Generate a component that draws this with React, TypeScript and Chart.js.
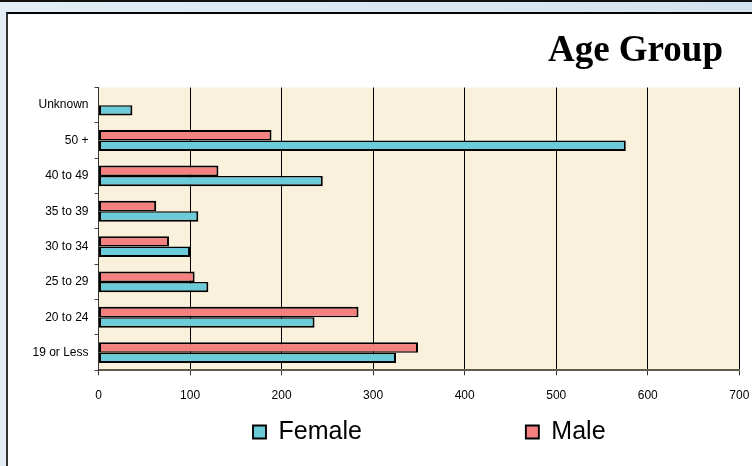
import React, { useEffect, useRef } from "react";
import { Chart, registerables } from "chart.js";

Chart.register(...registerables);

const categories = ["19 or Less", "20 to 24", "25 to 29", "30 to 34", "35 to 39", "40 to 49", "50 +", "Unknown"];
const femaleValues = [325, 236, 120, 100, 109, 245, 576, 37];
const maleValues: (number | null)[] = [349, 284, 105, 77, 63, 131, 189, null];
const xMin = 0;
const xMax = 700;
const xStep = 100;
const titleText = "Age Group";

const SANS = "'Liberation Sans', Arial, sans-serif";
const SERIF = "'Liberation Serif', 'Times New Roman', serif";

const plotBg = {
  id: "plotBg",
  beforeDraw(chart: any) {
    const { ctx, chartArea } = chart;
    if (!chartArea) return;
    ctx.save();
    ctx.fillStyle = "#f9f1dc";
    ctx.fillRect(chartArea.left, chartArea.top, chartArea.right - chartArea.left, chartArea.bottom - chartArea.top);
    ctx.restore();
  },
};

const LEGEND_GAP = 164;

const placeBoxes = {
  id: "placeBoxes",
  afterLayout(chart: any) {
    if (chart.titleBlock) {
      chart.titleBlock.right = 723;
    }
    const lg = chart.legend;
    if (lg) {
      lg.top = 419.5 - LEGEND_GAP;
      lg.left = 253 - LEGEND_GAP;
      lg.right = 1200;
    }
  },
};

export default function App() {
  const canvasRef = useRef<HTMLCanvasElement | null>(null);

  useEffect(() => {
    const canvas = canvasRef.current;
    if (!canvas) return;
    const chart = new Chart(canvas, {
      type: "bar",
      data: {
        labels: categories,
        datasets: [
          {
            label: "Male",
            data: maleValues as any,
            backgroundColor: "#f48080",
            borderColor: "#000000",
            borderWidth: { top: 2, bottom: 1.5, left: 2, right: 2 } as any,
            borderSkipped: false,
            inflateAmount: 0,
            categoryPercentage: 0.59,
            barPercentage: 1,
          },
          {
            label: "Female",
            data: femaleValues,
            backgroundColor: "#6ccbd9",
            borderColor: "#000000",
            borderWidth: { top: 1.5, bottom: 2, left: 2, right: 2 } as any,
            borderSkipped: false,
            inflateAmount: 0,
            categoryPercentage: 0.59,
            barPercentage: 1,
          },
        ],
      },
      options: {
        indexAxis: "y",
        responsive: false,
        devicePixelRatio: 1,
        animation: false,
        layout: { padding: { left: 8, right: 12.7, top: 0, bottom: 0.3 } },
        scales: {
          x: {
            type: "linear",
            min: xMin,
            max: xMax,
            ticks: {
              stepSize: xStep,
              color: "#000",
              padding: 13,
              font: { family: SANS, size: 12 },
            },
            grid: {
              color: "#000",
              lineWidth: 1,
              tickLength: 5,
              tickColor: "#333",
            },
            border: { display: true, color: "#5f5d48", width: 2 },
            afterFit(scale: any) {
              scale.paddingLeft = 0;
              scale.paddingRight = 0;
            },
          },
          y: {
            type: "category",
            reverse: true,
            ticks: {
              color: "#000",
              padding: 6,
              font: { family: SANS, size: 12 },
            },
            grid: {
              drawOnChartArea: false,
              drawTicks: true,
              tickLength: 4,
              tickColor: "#444",
              offset: true,
            },
            border: { display: true, color: "#333", width: 1 },
            afterFit(scale: any) {
              scale.width = 90.5;
            },
          },
        },
        plugins: {
          title: {
            display: true,
            text: titleText,
            align: "end",
            color: "#000",
            font: { family: SERIF, size: 37, weight: "bold", lineHeight: 1.2 },
            padding: { top: 29, bottom: 14.1 },
          },
          legend: {
            display: true,
            position: "bottom",
            align: "start",
            reverse: true,
            maxHeight: 50,
            labels: {
              color: "#000",
              boxWidth: 13,
              boxHeight: 13,
              padding: LEGEND_GAP,
              font: { family: SANS, size: 25 },
            },
          },
          tooltip: { enabled: false },
        },
      },
      plugins: [plotBg, placeBoxes],
    });
    return () => chart.destroy();
  }, []);

  return (
    <div
      style={{
        position: "fixed",
        left: 0,
        top: 0,
        width: 752,
        height: 466,
        overflow: "hidden",
        background: "linear-gradient(to right, #e2edf5, #d3e3ef)",
      }}
    >
      <div style={{ position: "absolute", left: 0, top: 0, width: 752, height: 2, background: "#111" }} />
      <div
        style={{
          position: "absolute",
          left: 6,
          top: 12,
          width: 760,
          height: 470,
          background: "#ffffff",
          borderLeft: "2px solid #333",
          borderTop: "2px solid #000",
        }}
      />
      <canvas ref={canvasRef} width={752} height={466} style={{ position: "absolute", left: 0, top: 0 }} />
    </div>
  );
}
